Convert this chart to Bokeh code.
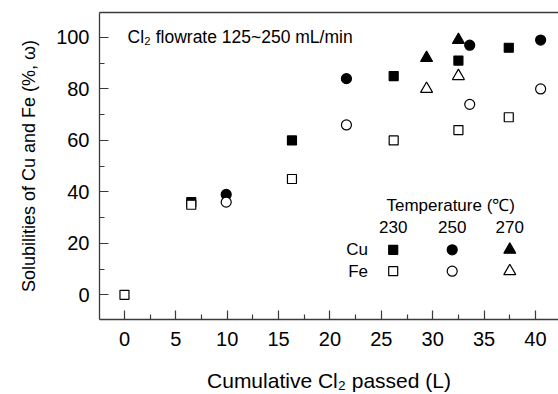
from bokeh.plotting import figure
from bokeh.models import Range1d, LinearAxis, FixedTicker, Label, Title
from bokeh.embed import file_html
from bokeh.resources import INLINE

# ---- data ----
cu230_x = [6.5, 16.3, 26.2, 32.5, 37.4]
cu230_y = [36, 60, 85, 91, 96]
fe230_x = [0, 6.5, 16.3, 26.2, 32.5, 37.4]
fe230_y = [0, 35, 45, 60, 64, 69]
cu250_x = [9.9, 21.6, 33.6, 40.5]
cu250_y = [39, 84, 97, 99]
fe250_x = [9.9, 21.6, 33.6, 40.5]
fe250_y = [36, 66, 74, 80]
cu270_x = [29.4, 32.5]
cu270_y = [92, 99]
fe270_x = [29.4, 32.5]
fe270_y = [80, 85]

x_ticks = [0, 5, 10, 15, 20, 25, 30, 35, 40]
x_minor = [2.5, 7.5, 12.5, 17.5, 22.5, 27.5, 32.5, 37.5, 42.5]
y_ticks = [0, 20, 40, 60, 80, 100]
y_minor = [10, 30, 50, 70, 90]
temperatures = ["230", "250", "270"]
metals = ["Cu", "Fe"]
x_title = "Cumulative Cl\u2082 passed (L)"
y_title = "Solubilities of Cu and Fe (%, \u03c9)"
note = "Cl\u2082 flowrate 125~250 mL/min"
legend_title = "Temperature (\u2103)"

FONT = "Liberation Sans"
AX = "#3a3a3a"

# ---- layout ----
W, H = 558, 394
FL, FT, FW, FH = 99, 12, 459, 307
X0, X1 = -2.43, 42.24
Y0, Y1 = -9.6, 109.7


def dx(px):
    return X0 + (px - FL) * (X1 - X0) / FW


def dy(py):
    return Y1 - (py - FT) * (Y1 - Y0) / FH


p = figure(width=W, height=H, output_backend="svg", toolbar_location=None,
           x_range=Range1d(X0, X1), y_range=Range1d(Y0, Y1),
           min_border_left=FL, min_border_top=FT, min_border_right=0,
           min_border_bottom=H - FT - FH)
p.outline_line_color = None
p.xgrid.visible = False
p.ygrid.visible = False
p.background_fill_color = "white"
p.border_fill_color = "white"

for ax, ticks, minor in ((p.xaxis[0], x_ticks, x_minor), (p.yaxis[0], y_ticks, y_minor)):
    ax.ticker = FixedTicker(ticks=ticks, minor_ticks=minor)
    ax.axis_line_color = AX
    ax.axis_line_width = 1.3
    ax.major_tick_line_color = AX
    ax.minor_tick_line_color = AX
    ax.major_tick_line_width = 1.2
    ax.minor_tick_line_width = 1.2
    ax.major_tick_in = 9
    ax.major_tick_out = 0
    ax.minor_tick_in = 5
    ax.minor_tick_out = 0
    ax.major_label_text_font = FONT
    ax.major_label_text_font_size = "20px"
    ax.major_label_text_color = "black"
    ax.axis_label_text_font = FONT
    ax.axis_label_text_font_style = "normal"
    ax.axis_label_text_color = "black"

p.xaxis.axis_label = x_title
p.xaxis.axis_label_text_font_size = "21px"
p.xaxis.major_label_standoff = 12
p.yaxis.major_label_standoff = 10
p.xaxis.axis_label_standoff = 20

# y-axis title, placed slightly above the frame centre as in the reference
ytitle = Title(text=y_title, align="center", offset=31, standoff=29,
               text_font=FONT, text_font_size="18px", text_font_style="normal",
               text_color="black")
p.add_layout(ytitle, "left")

top = LinearAxis(ticker=FixedTicker(ticks=[]), axis_line_color=AX, axis_line_width=1.3,
                 major_tick_line_color=None, minor_tick_line_color=None)
p.add_layout(top, "above")

STY = {
    "sq": dict(marker="square", size=9),
    "ci": dict(marker="circle", size=10),
    "tr": dict(marker="triangle", size=12),
}
LW = 1.2


def filled(kind):
    return dict(STY[kind], fill_color="black", line_color="black", line_width=LW)


def hollow(kind):
    return dict(STY[kind], fill_color="white", line_color="black", line_width=LW)


p.scatter(cu230_x, cu230_y, **filled("sq"))
p.scatter(cu250_x, cu250_y, **filled("ci"))
p.scatter(cu270_x, cu270_y, **filled("tr"))
p.scatter(fe230_x, fe230_y, **hollow("sq"))
p.scatter(fe250_x, fe250_y, **hollow("ci"))
p.scatter(fe270_x, fe270_y, **hollow("tr"))


def lab(px, py, text, size="17px", align="left"):
    p.add_layout(Label(x=dx(px), y=dy(py), text=text, text_font=FONT,
                       text_font_size=size, text_baseline="middle",
                       text_align=align, text_color="black"))


# annotation
lab(127, 36, note, size="17.5px")

# custom legend (table style)
col_px = [392.7, 451.7, 509.3]
row_px = [249.3, 270.7]
kinds = ["sq", "ci", "tr"]
lab(386, 205, legend_title)
for t, cx in zip(temperatures, col_px):
    lab(cx, 226.7, t, align="center")
for m, ry in zip(metals, row_px):
    lab(367.5, ry, m, align="right")
for k, cx in zip(kinds, col_px):
    p.scatter([dx(cx)], [dy(row_px[0])], **filled(k))
    p.scatter([dx(cx)], [dy(row_px[1])], **hollow(k))

open("out.html", "w").write(file_html(p, INLINE))
